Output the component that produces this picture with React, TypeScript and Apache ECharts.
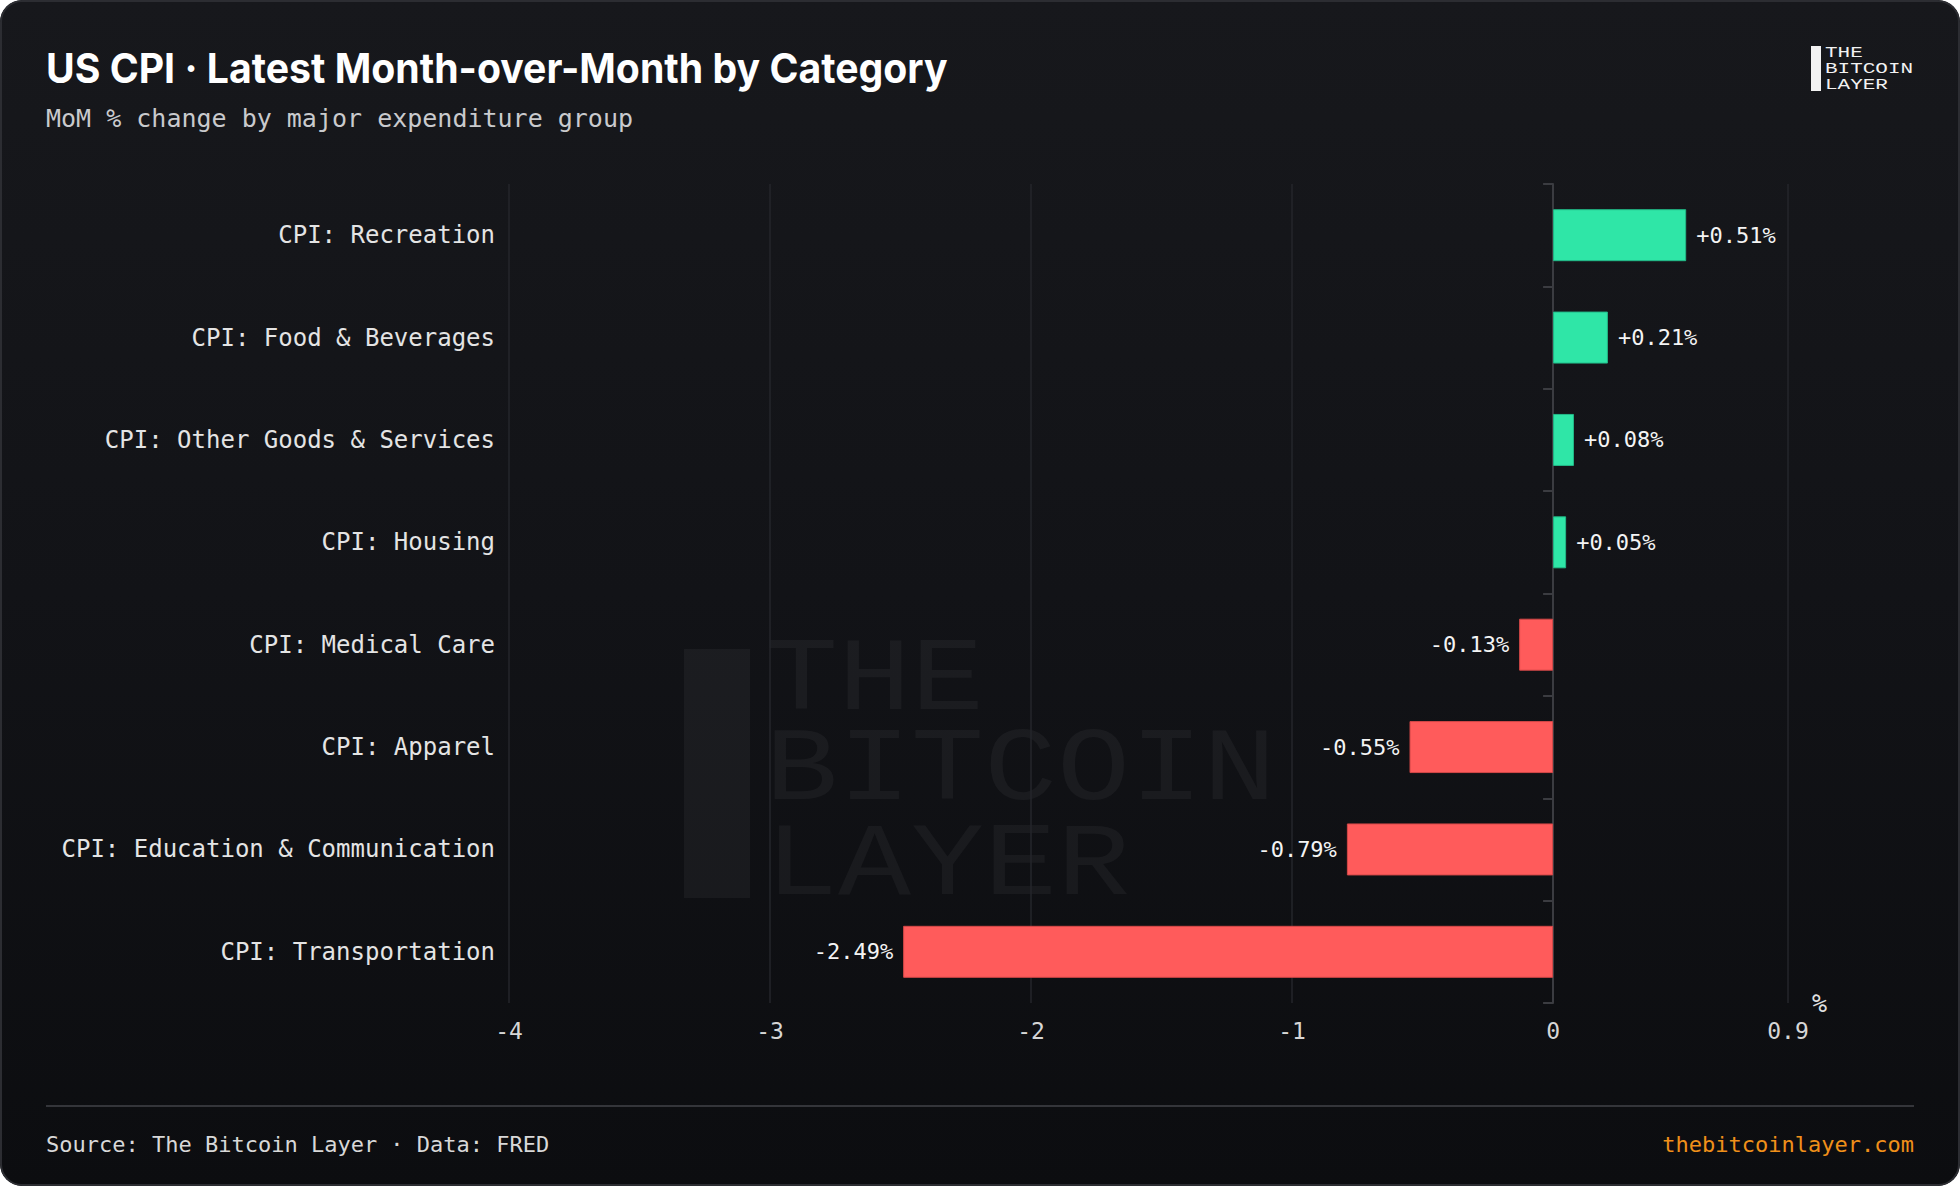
import React, { useEffect, useRef } from "react";
import * as echarts from "echarts";

const categories = [
  "CPI: Recreation",
  "CPI: Food & Beverages",
  "CPI: Other Goods & Services",
  "CPI: Housing",
  "CPI: Medical Care",
  "CPI: Apparel",
  "CPI: Education & Communication",
  "CPI: Transportation",
];
const momValues = [0.51, 0.21, 0.08, 0.05, -0.13, -0.55, -0.79, -2.49];
const axisMin = -4;
const axisMax = 0.9;
const axisInterval = 1;
const axisUnit = "%";

const titleText = "US CPI · Latest Month-over-Month by Category";
const subtitleText = "MoM % change by major expenditure group";
const sourceText = "Source: The Bitcoin Layer · Data: FRED";
const siteText = "thebitcoinlayer.com";
const logoLines = ["THE", "BITCOIN", "LAYER"];

const W = 1960;
const H = 1186;
const MONO = "'DejaVu Sans Mono', monospace";
const LOGO_FONT = "'Liberation Mono', monospace";

export default function App() {
  const ref = useRef<HTMLDivElement>(null);

  useEffect(() => {
    if (!ref.current) return;
    const chart = echarts.init(ref.current, null, { renderer: "svg", width: W, height: H });

    const wmColor = "rgba(255,255,255,0.045)";
    const wmCenters = [681, 771, 866];
    const logoCenters = [53, 69, 85];

    const option: any = {
      animation: false,
      backgroundColor: "transparent",
      grid: { left: 509, right: W - 1788, top: 184, bottom: H - 1003, containLabel: false },
      xAxis: {
        type: "value",
        min: axisMin,
        max: axisMax,
        interval: axisInterval,
        name: axisUnit,
        nameLocation: "end",
        nameGap: 24,
        nameTextStyle: { color: "#e0e0e0", fontFamily: MONO, fontSize: 25 },
        axisLine: { show: false },
        axisTick: { show: false },
        axisLabel: { color: "#d6d6d6", fontFamily: MONO, fontSize: 23, margin: 16, showMaxLabel: true },
        splitLine: { show: true, lineStyle: { color: "#25262b", width: 1.5 } },
      },
      yAxis: [
        {
          type: "category",
          data: categories,
          inverse: true,
          position: "left",
          axisLine: { show: false, onZero: false },
          axisTick: { show: false },
          splitLine: { show: false },
          axisLabel: { color: "#e4e4e4", fontFamily: MONO, fontSize: 24, margin: 14 },
        },
        {
          type: "category",
          data: categories,
          inverse: true,
          position: "left",
          axisLine: { show: true, onZero: true, lineStyle: { color: "#3b3c41", width: 2 } },
          axisTick: { show: true, length: 10, lineStyle: { color: "#3b3c41", width: 2 } },
          axisLabel: { show: false },
          splitLine: { show: false },
        },
      ],
      series: [
        {
          type: "bar",
          yAxisIndex: 0,
          barWidth: 52,
          z: 1,
          data: momValues.map((v) => ({
            value: v,
            itemStyle: {
              color: v >= 0 ? "#2fe6a7" : "#ff5b5b",
              borderColor: v >= 0 ? "#22b987" : "#d44848",
              borderWidth: 1,
            },
            label: {
              show: true,
              position: v >= 0 ? "right" : "left",
              distance: 10,
              color: "#f4f4f4",
              fontFamily: MONO,
              fontSize: 22,
              formatter: () => (v >= 0 ? "+" : "") + v.toFixed(2) + "%",
            },
          })),
        },
      ],
      graphic: [
        // watermark
        {
          type: "rect",
          z: -10,
          silent: true,
          shape: { x: 684, y: 649, width: 66, height: 249 },
          style: { fill: wmColor },
        },
        ...logoLines.map((t, i) => ({
          type: "text",
          z: -10,
          silent: true,
          x: 765,
          y: wmCenters[i],
          scaleX: 1.17,
          style: {
            text: t,
            fill: wmColor,
            font: `104px ${LOGO_FONT}`,
            verticalAlign: "middle",
            align: "left",
          },
        })),
        // title
        {
          type: "text",
          x: 46,
          y: 68,
          scaleX: 0.957,
          style: {
            text: titleText,
            fill: "#ffffff",
            font: "bold 41px Inter, sans-serif",
            verticalAlign: "middle",
            align: "left",
          },
        },
        {
          type: "text",
          x: 46,
          y: 118,
          style: {
            text: subtitleText,
            fill: "#c9cacd",
            font: `25px ${MONO}`,
            verticalAlign: "middle",
            align: "left",
          },
        },
        // logo top right
        {
          type: "rect",
          shape: { x: 1811, y: 46, width: 10, height: 45 },
          style: { fill: "#f2f2f2" },
        },
        ...logoLines.map((t, i) => ({
          type: "text",
          x: 1825,
          y: logoCenters[i],
          scaleX: 1.4,
          style: {
            text: t,
            fill: "#f2f2f2",
            font: `15px ${LOGO_FONT}`,
            verticalAlign: "middle",
            align: "left",
          },
        })),
        // footer
        {
          type: "line",
          shape: { x1: 46, y1: 1106, x2: 1914, y2: 1106 },
          style: { stroke: "#34353a", lineWidth: 2 },
        },
        {
          type: "text",
          x: 46,
          y: 1144,
          style: {
            text: sourceText,
            fill: "#d8d8d8",
            font: `22px ${MONO}`,
            verticalAlign: "middle",
            align: "left",
          },
        },
        {
          type: "text",
          x: 1914,
          y: 1144,
          style: {
            text: siteText,
            fill: "#f0901a",
            font: `22px ${MONO}`,
            verticalAlign: "middle",
            align: "right",
          },
        },
      ],
    };

    chart.setOption(option);
    return () => chart.dispose();
  }, []);

  return (
    <div
      style={{
        position: "fixed",
        left: 0,
        top: 0,
        width: W,
        height: H,
        borderRadius: 22,
        overflow: "hidden",
        background: "linear-gradient(180deg, #17181c 0%, #121317 50%, #0c0d10 100%)",
      }}
    >
      <div ref={ref} style={{ position: "absolute", left: 0, top: 0, width: W, height: H }} />
      <div
        style={{
          position: "absolute",
          left: 0,
          top: 0,
          width: W,
          height: H,
          boxSizing: "border-box",
          border: "2px solid #2c2d32",
          borderRadius: 22,
          pointerEvents: "none",
        }}
      />
    </div>
  );
}
